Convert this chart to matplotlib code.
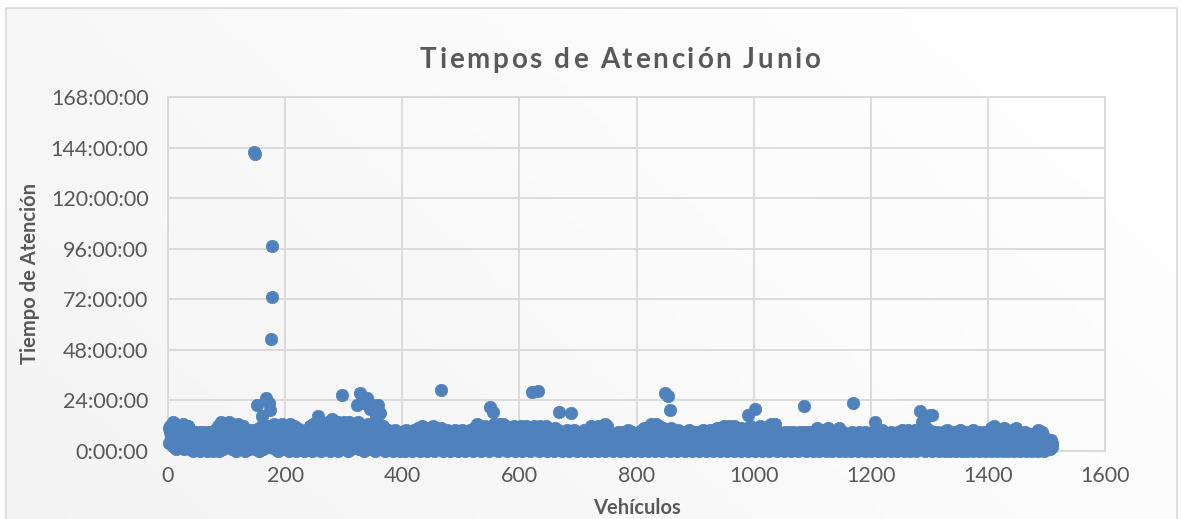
import numpy as np
import matplotlib.pyplot as plt
from matplotlib.patches import Rectangle
from matplotlib.ticker import FuncFormatter, MultipleLocator

# horas de atención por vehículo (vehículo 1 en adelante), por bloques de 100
horas_0001 = [
    11, 4, 9, 12, 6, 3, 10, 14, 7, 2, 5, 13, 8, 1, 6, 11, 4, 9, 3, 12,
    7, 2, 10, 5, 13, 8, 1, 6, 11, 3, 9, 4, 7, 12, 2, 5, 10, 1, 8, 6,
    3, 9, 0, 7, 4, 9, 2, 6, 8, 1, 5, 8, 3, 9, 0, 7, 4, 2, 9, 6,
    1, 5, 8, 3, 8, 0, 6, 9, 2, 4, 7, 1, 9, 3, 5, 0, 8, 2, 6, 4,
    10, 1, 7, 3, 12, 5, 0, 9, 2, 14, 6, 4, 11, 1, 8, 13, 3, 7, 10, 5,
]
horas_0101 = [
    12, 4, 9, 14, 2, 7, 11, 5, 13, 1, 8, 3, 10, 6, 12, 0, 9, 4, 13, 2,
    7, 11, 3, 8, 1, 10, 5, 12, 2, 6, 9, 0, 4, 9, 7, 3, 8, 1, 10, 5,
    2, 9, 6, 10, 4, 142, 7, 1, 141, 10, 3, 21.8, 5, 8, 0, 11, 6, 2, 9, 16.5,
    4, 13, 1, 7, 10, 3, 12, 25, 5, 8, 2, 23, 6, 9, 19.5, 53, 72.9, 97.3, 4, 11,
    13, 1, 7, 10, 3, 12, 6, 0, 9, 4, 11, 2, 8, 13, 5, 1, 10, 7, 3, 12,
]
horas_0201 = [
    6, 12, 2, 9, 4, 11, 0, 7, 13, 3, 8, 1, 10, 5, 12, 2, 6, 9, 0, 11,
    4, 7, 10, 1, 8, 3, 10, 5, 9, 2, 9, 6, 0, 8, 4, 7, 1, 10, 3, 8,
    5, 12, 2, 6, 9, 0, 13, 4, 7, 11, 1, 8, 3, 10, 5, 16.5, 2, 14, 6, 9,
    0, 12, 4, 7, 13, 1, 10, 3, 8, 5, 11, 2, 14, 6, 9, 0, 12, 4, 7, 15,
    1, 10, 3, 8, 5, 13, 2, 11, 6, 14, 0, 9, 4, 12, 7, 1, 26.6, 3, 10, 14,
]
horas_0301 = [
    8, 13, 5, 2, 11, 6, 0, 9, 14, 4, 7, 12, 1, 10, 3, 8, 13, 5, 2, 11,
    6, 21.8, 9, 4, 14, 7, 1, 27.4, 10, 3, 12, 24, 5, 8, 0, 23, 11, 6, 25, 2,
    9, 13, 4, 7, 20, 1, 10, 3, 12, 22, 5, 8, 0, 11, 6, 16.3, 2, 9, 21.8, 4,
    13, 18, 7, 1, 10, 3, 12, 5, 8, 0, 9, 6, 2, 8, 4, 10, 7, 1, 9, 3,
    8, 5, 9, 0, 6, 9, 2, 10, 4, 7, 1, 8, 3, 8, 5, 9, 0, 6, 9, 2,
]
horas_0401 = [
    7, 9, 3, 8, 0, 5, 10, 2, 8, 4, 9, 1, 6, 7, 3, 7, 0, 9, 5, 10,
    2, 8, 4, 10, 1, 6, 11, 3, 7, 0, 9, 5, 12, 2, 8, 4, 10, 1, 6, 3,
    11, 7, 0, 9, 5, 2, 8, 4, 10, 1, 6, 12, 3, 7, 0, 9, 5, 11, 2, 8,
    4, 10, 1, 6, 3, 11, 29, 7, 0, 9, 5, 2, 9, 8, 4, 1, 10, 6, 3, 8,
    7, 0, 9, 5, 8, 2, 8, 4, 1, 10, 6, 3, 9, 7, 0, 9, 5, 2, 8, 6,
]
horas_0501 = [
    4, 10, 1, 6, 9, 3, 8, 0, 7, 5, 2, 9, 7, 4, 10, 1, 8, 6, 3, 8,
    0, 11, 5, 2, 9, 7, 13, 4, 1, 10, 6, 3, 12, 8, 0, 5, 11, 2, 9, 7,
    4, 12, 1, 10, 6, 3, 8, 0, 11, 21, 5, 2, 9, 7, 18.7, 4, 13, 1, 10, 6,
    3, 12, 8, 0, 13, 5, 2, 11, 9, 7, 4, 13, 1, 10, 6, 3, 8, 12, 0, 5,
    11, 2, 9, 7, 4, 1, 10, 6, 3, 12, 8, 0, 5, 11, 2, 9, 7, 4, 1, 10,
]
horas_0601 = [
    6, 3, 12, 8, 0, 5, 11, 2, 9, 7, 4, 12, 1, 10, 6, 3, 8, 0, 11, 5,
    28.1, 2, 9, 7, 12, 4, 1, 10, 6, 3, 8, 28.6, 0, 11, 5, 12, 2, 9, 7, 4,
    1, 10, 6, 3, 12, 8, 0, 5, 11, 2, 9, 7, 4, 1, 10, 6, 3, 8, 0, 11,
    5, 2, 9, 7, 4, 10, 1, 18.7, 8, 6, 3, 8, 0, 9, 5, 2, 9, 7, 4, 1,
    10, 6, 3, 8, 0, 9, 5, 2, 18.2, 9, 7, 4, 1, 10, 6, 3, 8, 0, 9, 5,
]
horas_0701 = [
    2, 7, 5, 4, 1, 9, 6, 3, 8, 0, 10, 5, 2, 7, 4, 6, 1, 9, 3, 5,
    8, 0, 12, 5, 2, 9, 7, 4, 1, 11, 6, 3, 8, 0, 12, 5, 2, 9, 7, 4,
    1, 10, 6, 3, 8, 13, 0, 11, 5, 12, 2, 9, 7, 4, 1, 8, 6, 3, 7, 0,
    5, 3, 2, 8, 6, 4, 1, 9, 6, 3, 7, 0, 8, 5, 2, 9, 4, 6, 1, 7,
    6, 3, 8, 0, 10, 5, 2, 7, 4, 1, 3, 9, 6, 2, 8, 0, 5, 4, 2, 7,
]
horas_0801 = [
    7, 4, 1, 9, 6, 3, 8, 0, 10, 5, 2, 7, 11, 4, 1, 9, 6, 3, 8, 0,
    11, 5, 2, 9, 13, 4, 1, 12, 6, 3, 8, 0, 13, 5, 2, 9, 7, 12, 1, 10,
    6, 3, 8, 0, 11, 5, 2, 9, 27.4, 4, 1, 10, 6, 26.1, 3, 8, 0, 19.5, 11, 5,
    2, 8, 7, 4, 1, 9, 6, 3, 5, 0, 10, 5, 2, 8, 7, 4, 1, 9, 6, 3,
    8, 0, 7, 5, 2, 9, 6, 4, 1, 10, 6, 3, 8, 0, 7, 5, 2, 9, 7, 4,
]
horas_0901 = [
    1, 9, 6, 3, 8, 0, 7, 5, 2, 9, 6, 4, 1, 10, 6, 3, 8, 0, 9, 5,
    2, 8, 7, 4, 1, 10, 6, 3, 7, 0, 9, 5, 2, 8, 6, 4, 1, 11, 6, 3,
    8, 0, 11, 5, 2, 9, 7, 4, 1, 12, 6, 3, 8, 0, 11, 5, 2, 12, 7, 4,
    1, 10, 6, 3, 8, 0, 12, 5, 2, 9, 7, 4, 1, 11, 6, 3, 8, 0, 11, 5,
    2, 9, 7, 4, 1, 10, 6, 3, 8, 0, 17.1, 5, 2, 12, 7, 4, 1, 10, 6, 3,
]
horas_1001 = [
    8, 19.8, 0, 11, 5, 2, 9, 7, 4, 1, 12, 6, 3, 8, 0, 11, 5, 2, 9, 7,
    4, 1, 10, 6, 3, 12, 0, 11, 5, 13, 2, 9, 12, 4, 1, 13, 6, 3, 8, 0,
    9, 5, 2, 7, 6, 4, 1, 8, 6, 3, 7, 0, 9, 5, 2, 8, 6, 4, 1, 9,
    6, 3, 7, 0, 8, 5, 2, 9, 6, 4, 1, 8, 5, 3, 7, 0, 9, 5, 2, 8,
    7, 4, 1, 9, 6, 21.4, 3, 8, 0, 9, 5, 2, 8, 6, 4, 1, 9, 6, 3, 8,
]
horas_1101 = [
    0, 9, 5, 2, 8, 6, 4, 1, 11, 3, 7, 0, 9, 5, 2, 8, 6, 4, 1, 10,
    3, 7, 0, 9, 5, 2, 11, 6, 4, 1, 10, 3, 7, 0, 9, 5, 2, 8, 6, 4,
    1, 10, 3, 7, 0, 11, 5, 2, 8, 6, 4, 1, 9, 3, 7, 0, 8, 5, 2, 6,
    6, 4, 1, 8, 3, 7, 0, 9, 5, 22.9, 2, 8, 6, 4, 1, 7, 3, 5, 0, 9,
    5, 2, 8, 6, 4, 1, 7, 3, 6, 0, 9, 5, 2, 8, 6, 4, 1, 7, 3, 6,
]
horas_1201 = [
    0, 9, 5, 2, 8, 6, 13.9, 1, 10, 3, 7, 0, 9, 5, 2, 8, 6, 4, 1, 10,
    3, 7, 0, 8, 5, 2, 6, 6, 4, 1, 8, 3, 7, 0, 9, 5, 2, 8, 6, 4,
    1, 8, 3, 7, 0, 9, 5, 2, 8, 6, 4, 1, 10, 3, 7, 0, 9, 5, 2, 8,
    6, 4, 1, 10, 3, 7, 0, 9, 5, 2, 8, 6, 4, 1, 10, 3, 7, 0, 9, 5,
    2, 8, 6, 19.1, 4, 1, 13.9, 10, 3, 14, 7, 0, 12, 5, 2, 8, 6, 4, 1, 10,
]
horas_1301 = [
    17.1, 3, 7, 17, 0, 9, 5, 2, 8, 6, 4, 1, 9, 3, 7, 0, 8, 5, 2, 6,
    4, 1, 9, 3, 7, 0, 8, 5, 2, 6, 10, 1, 4, 3, 7, 0, 9, 5, 2, 6,
    3, 8, 1, 5, 0, 9, 4, 2, 7, 6, 1, 10, 3, 5, 0, 8, 2, 6, 4, 9,
    1, 7, 3, 5, 0, 8, 2, 9, 6, 4, 1, 7, 3, 10, 0, 5, 2, 8, 6, 4,
    1, 7, 3, 9, 0, 5, 2, 8, 6, 4, 1, 7, 3, 9, 0, 5, 2, 8, 6, 4,
]
horas_1401 = [
    1, 7, 3, 9, 0, 11, 2, 8, 6, 4, 12, 7, 3, 9, 0, 5, 2, 10, 6, 4,
    1, 7, 3, 9, 0, 5, 11, 8, 6, 4, 1, 7, 3, 9, 0, 5, 2, 8, 6, 4,
    1, 10, 3, 9, 0, 5, 2, 11, 6, 4, 1, 7, 3, 9, 0, 5, 2, 8, 6, 4,
    1, 7, 3, 9, 0, 5, 2, 8, 6, 4, 1, 7, 3, 8, 0, 5, 2, 7, 6, 4,
    1, 6, 3, 9, 0, 10, 2, 8, 5, 4, 1, 9, 3, 7, 0, 5, 2, 6, 4, 3,
    1, 5, 3, 2, 4, 1, 3, 5, 2, 4,
]

horas = np.array(horas_0001 + horas_0101 + horas_0201 + horas_0301 + horas_0401
                 + horas_0501 + horas_0601 + horas_0701 + horas_0801 + horas_0901
                 + horas_1001 + horas_1101 + horas_1201 + horas_1301 + horas_1401)
vehiculos = np.arange(1, len(horas) + 1)

titulo = "Tiempos de Atención Junio"
gris = "#595959"
W, H = 1182, 519
plt.rcParams["font.family"] = ["Lato", "DejaVu Sans"]

fig = plt.figure(figsize=(W / 100, H / 100), dpi=100)

# fondo con degradado suave y marco del gráfico
bg = fig.add_axes([0, 0, 1, 1], zorder=-10)
gx, gy = np.meshgrid(np.linspace(0, 1, 256), np.linspace(0, 1, 128))
grad = 0.955 + 0.045 * np.clip(0.75 * gx + 0.35 * gy, 0, 1)
bg.imshow(np.dstack([grad, grad, grad]), extent=[0, 1, 0, 1], aspect="auto", origin="lower")
bg.add_patch(Rectangle((0, 0), 6 / W, 1, color="white", lw=0))
bg.add_patch(Rectangle((0, 1 - 8 / H), 1, 8 / H, color="white", lw=0))
bg.add_patch(Rectangle((1177 / W, 0), 5 / W, 1, color="white", lw=0))
bg.plot([6 / W, 6 / W, 1177 / W, 1177 / W], [0, 1 - 8 / H, 1 - 8 / H, 0],
        color="#d9d9d9", lw=1.2)
bg.set_xlim(0, 1)
bg.set_ylim(0, 1)
bg.axis("off")

ax = fig.add_axes([168 / W, 1 - 451 / H, (1105 - 168) / W, (451 - 97) / H])
ax.patch.set_alpha(0)
ax.scatter(vehiculos, horas, s=80, color="#4f81bd", edgecolors="#4f81bd", linewidths=0.5,
           zorder=3, clip_on=False)

ax.set_xlim(0, 1600)
ax.set_ylim(0, 168)
ax.xaxis.set_major_locator(MultipleLocator(200))
ax.yaxis.set_major_locator(MultipleLocator(24))
ax.yaxis.set_major_formatter(FuncFormatter(lambda v, p: f"{int(v)}:00:00"))
ax.grid(True, color="#d9d9d9", lw=1.3, zorder=0)
for s in ax.spines.values():
    s.set_color("#d9d9d9")
    s.set_linewidth(1.3)
ax.tick_params(length=0, labelsize=15.5, colors=gris)
ax.tick_params(axis="x", pad=11)
ax.tick_params(axis="y", pad=14)

ax.set_xlabel("Vehículos", fontsize=14.5, fontweight="bold", color=gris, va="center")
ax.xaxis.set_label_coords(0.5, (451 - 508) / 354)
ax.set_ylabel("Tiempo de Atención", fontsize=14.5, fontweight="bold", color=gris, va="center")
ax.yaxis.set_label_coords((30 - 168) / 937, 0.5)

# título con espaciado entre letras
r = fig.canvas.get_renderer()
props = dict(fontsize=20, fontweight="bold", color=gris)
def ancho(s):
    t = fig.text(0, 0, s, **props)
    w = t.get_window_extent(r).width
    t.remove()
    return w
anchos = [ancho("x" + c + "x") - 2 * ancho("x") for c in titulo]
extra = (400 - sum(anchos)) / (len(titulo) - 1)
x0 = 620 - 200
for c, w in zip(titulo, anchos):
    fig.text(x0 / W, 1 - 68 / H, c, ha="left", va="baseline", **props)
    x0 += w + extra

fig.savefig("out.png", dpi=100)
